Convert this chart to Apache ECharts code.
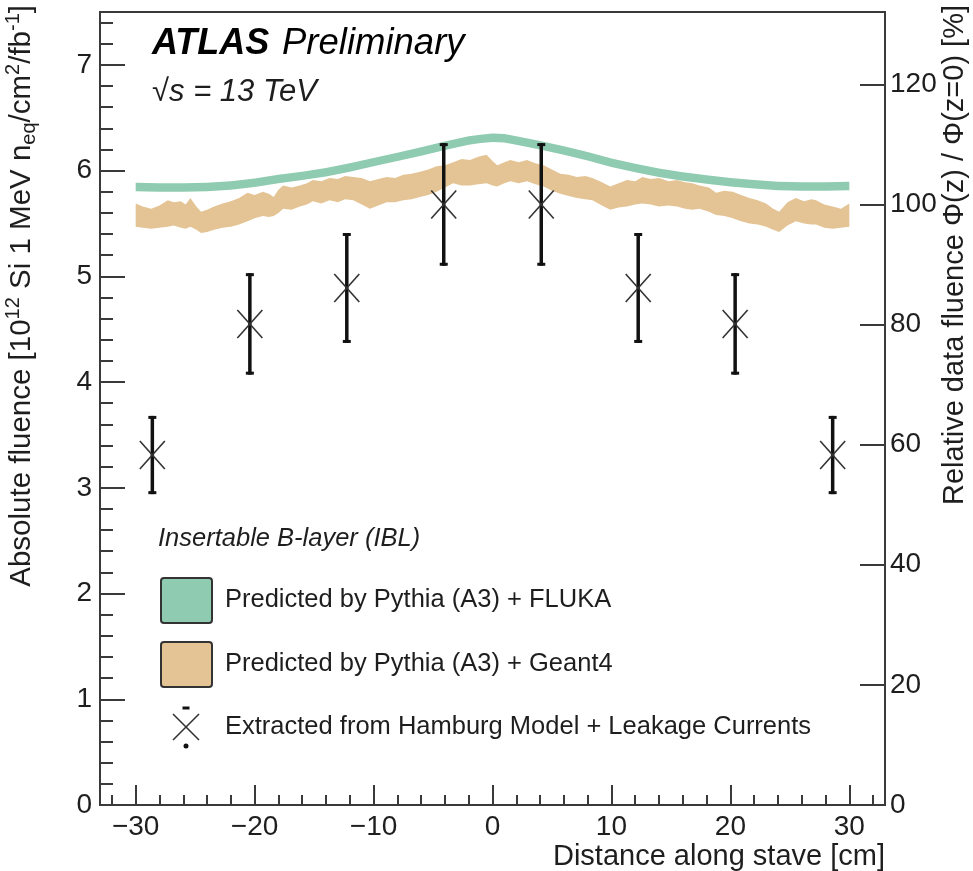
<!DOCTYPE html>
<html>
<head>
<meta charset="utf-8">
<title>IBL fluence along the stave</title>
<script src="https://cdn.jsdelivr.net/npm/echarts@6/dist/echarts.min.js"></script>
<style>
  html, body { margin: 0; padding: 0; background: #fff; }
  #chart { width: 973px; height: 871px; }
</style>
</head>
<body>
<div id="chart"></div>
<script>
// Measured fluence points (extracted from Hamburg model + leakage currents)
const pointZ = [-28.6, -20.4, -12.25, -4.1, 4.1, 12.25, 20.4, 28.6];
const pointFluence = [3.31, 4.55, 4.89, 5.68, 5.68, 4.89, 4.55, 3.31];
const pointError = [0.37, 0.48, 0.52, 0.58, 0.58, 0.52, 0.48, 0.37];

// Pythia (A3) + FLUKA prediction band
const flukaZ = [-30, -28, -26, -24, -22, -20, -18, -16, -14, -12, -10, -8, -6, -4, -2, -1, 0, 1, 2, 4, 6, 8, 10, 12, 14, 16, 18, 20, 22, 24, 26, 28, 30];
const flukaHigh = [5.885, 5.88, 5.88, 5.885, 5.90, 5.925, 5.96, 5.99, 6.025, 6.07, 6.12, 6.17, 6.22, 6.275, 6.325, 6.34, 6.35, 6.345, 6.325, 6.28, 6.23, 6.175, 6.115, 6.065, 6.02, 5.985, 5.955, 5.93, 5.91, 5.895, 5.89, 5.89, 5.895];
const flukaLow = [5.805, 5.80, 5.80, 5.805, 5.82, 5.845, 5.88, 5.91, 5.945, 5.99, 6.04, 6.09, 6.14, 6.195, 6.245, 6.26, 6.27, 6.265, 6.245, 6.20, 6.15, 6.095, 6.035, 5.985, 5.94, 5.905, 5.875, 5.85, 5.83, 5.815, 5.81, 5.81, 5.815];

// Pythia (A3) + Geant4 prediction band
const geantZ = [-30.0, -29.4, -28.7, -28.0, -27.3, -26.8, -26.2, -25.8, -25.4, -24.9, -24.5, -24.0, -23.4, -22.7, -22.0, -21.3, -20.6, -20.0, -19.3, -18.8, -18.4, -18.0, -17.6, -16.9, -16.2, -15.6, -15.1, -14.4, -13.7, -13.0, -12.4, -11.7, -11.0, -10.3, -9.6, -8.9, -8.2, -7.5, -6.8, -6.1, -5.4, -4.7, -4.0, -3.3, -2.6, -1.9, -1.2, -0.5, 0.0, 0.4, 1.0, 1.5, 2.2, 2.9, 3.6, 4.3, 5.0, 5.7, 6.4, 7.1, 7.8, 8.4, 9.2, 9.9, 10.6, 11.3, 12.0, 12.6, 13.3, 14.0, 14.8, 15.5, 16.2, 16.8, 17.4, 18.2, 18.8, 19.5, 20.2, 20.9, 21.6, 22.3, 23.0, 23.6, 24.1, 24.8, 25.5, 26.2, 26.8, 27.2, 27.9, 28.6, 29.3, 30.0];
const geantHigh = [5.69, 5.66, 5.64, 5.67, 5.72, 5.70, 5.71, 5.68, 5.74, 5.66, 5.61, 5.63, 5.66, 5.69, 5.71, 5.74, 5.79, 5.77, 5.80, 5.78, 5.75, 5.82, 5.86, 5.84, 5.86, 5.88, 5.91, 5.90, 5.93, 5.92, 5.95, 5.94, 5.93, 5.90, 5.92, 5.94, 5.93, 5.96, 5.97, 5.99, 6.01, 6.04, 6.05, 6.08, 6.11, 6.10, 6.13, 6.15, 6.09, 6.05, 6.08, 6.10, 6.08, 6.10, 6.07, 6.05, 6.01, 5.97, 5.96, 5.94, 5.95, 5.93, 5.89, 5.85, 5.88, 5.91, 5.90, 5.94, 5.92, 5.93, 5.90, 5.91, 5.89, 5.88, 5.86, 5.84, 5.79, 5.81, 5.80, 5.77, 5.74, 5.72, 5.69, 5.64, 5.61, 5.70, 5.74, 5.71, 5.73, 5.72, 5.68, 5.66, 5.64, 5.69];
const geantLow = [5.47, 5.46, 5.45, 5.46, 5.47, 5.48, 5.46, 5.45, 5.47, 5.44, 5.41, 5.42, 5.44, 5.46, 5.47, 5.49, 5.52, 5.55, 5.57, 5.56, 5.57, 5.60, 5.64, 5.63, 5.66, 5.68, 5.71, 5.69, 5.72, 5.70, 5.73, 5.72, 5.68, 5.64, 5.67, 5.70, 5.70, 5.72, 5.73, 5.75, 5.77, 5.80, 5.84, 5.88, 5.86, 5.86, 5.87, 5.88, 5.86, 5.85, 5.88, 5.90, 5.88, 5.90, 5.87, 5.85, 5.81, 5.78, 5.76, 5.74, 5.73, 5.72, 5.67, 5.63, 5.65, 5.66, 5.68, 5.69, 5.68, 5.66, 5.67, 5.66, 5.64, 5.63, 5.64, 5.61, 5.58, 5.57, 5.55, 5.52, 5.50, 5.49, 5.47, 5.44, 5.42, 5.48, 5.52, 5.50, 5.49, 5.49, 5.46, 5.45, 5.46, 5.47];

// Axis ranges and tick positions
const zMin = -33, zMax = 33;
const fluenceMax = 7.5;
const fluenceAtCentre = 5.68;          // Φ(z=0), sets the 100 % level of the right axis
const zMajorTicks = [-30, -20, -10, 0, 10, 20, 30];
const zMinorTicks = [-32, -28, -26, -24, -22, -18, -16, -14, -12, -8, -6, -4, -2, 2, 4, 6, 8, 12, 14, 16, 18, 22, 24, 26, 28, 32];
const fluenceMajorTicks = [0, 1, 2, 3, 4, 5, 6, 7];
const fluenceMinorTicks = [0.2, 0.4, 0.6, 0.8, 1.2, 1.4, 1.6, 1.8, 2.2, 2.4, 2.6, 2.8, 3.2, 3.4, 3.6, 3.8, 4.2, 4.4, 4.6, 4.8, 5.2, 5.4, 5.6, 5.8, 6.2, 6.4, 6.6, 6.8, 7.2, 7.4];
const relativeTicks = [0, 20, 40, 60, 80, 100, 120];

const FONT = "'Liberation Sans', Arial, Helvetica, sans-serif";
const AXIS_COLOR = '#3a3a3a';
const TEXT_COLOR = '#1e1e1e';
const FLUKA_COLOR = '#8fcbb0';
const GEANT_COLOR = '#e4c495';

const chart = echarts.init(document.getElementById('chart'), null, { renderer: 'canvas' });

function bandRows(z, lo, hi) {
  return z.map((v, i) => [v, lo[i], hi[i]]);
}

// Draws a filled band as one polygon through all rows of the series
function bandRenderer(color) {
  return function (params, api) {
    if (params.dataIndexInside !== 0) return null;
    const n = params.dataInsideLength;
    const upper = [], lower = [];
    for (let i = 0; i < n; i++) {
      const z = api.value(0, i);
      upper.push(api.coord([z, api.value(2, i)]));
      lower.push(api.coord([z, api.value(1, i)]));
    }
    return {
      type: 'polygon',
      shape: { points: upper.concat(lower.reverse()) },
      style: { fill: color, stroke: null },
      silent: true
    };
  };
}

// Error bar with caps plus an X marker at the central value
function pointRenderer(params, api) {
  const z = api.value(0), f = api.value(1), e = api.value(2);
  const c = api.coord([z, f]);
  const top = api.coord([z, f + e]);
  const bot = api.coord([z, f - e]);
  const ink = '#111';
  const mark = '#333';
  return {
    type: 'group',
    children: [
      { type: 'line', shape: { x1: c[0], y1: top[1], x2: c[0], y2: bot[1] }, style: { stroke: ink, lineWidth: 3.5 } },
      { type: 'line', shape: { x1: c[0] - 4, y1: top[1] + 1.5, x2: c[0] + 4, y2: top[1] + 1.5 }, style: { stroke: ink, lineWidth: 3 } },
      { type: 'line', shape: { x1: c[0] - 4, y1: bot[1] - 1.5, x2: c[0] + 4, y2: bot[1] - 1.5 }, style: { stroke: ink, lineWidth: 3 } },
      { type: 'line', shape: { x1: c[0] - 12.5, y1: c[1] - 14, x2: c[0] + 12.5, y2: c[1] + 14 }, style: { stroke: mark, lineWidth: 1.6 } },
      { type: 'line', shape: { x1: c[0] - 12.5, y1: c[1] + 14, x2: c[0] + 12.5, y2: c[1] - 14 }, style: { stroke: mark, lineWidth: 1.6 } }
    ]
  };
}

function txt(text, x, y, opts) {
  const o = opts || {};
  return {
    type: 'text',
    x: x, y: y,
    rotation: o.rotation || 0,
    silent: true,
    z: 10,
    style: {
      text: text,
      x: 0, y: 0,
      font: o.font || ('25.5px ' + FONT),
      fill: o.fill || TEXT_COLOR,
      align: o.align || 'left',
      verticalAlign: 'middle',
      textAlign: o.align || 'left',
      textVerticalAlign: 'middle',
      rich: o.rich
    }
  };
}

const supSub = {
  n: { fontSize: 29.5, fontFamily: FONT, color: TEXT_COLOR, lineHeight: 31 },
  sup: { fontSize: 20, fontFamily: FONT, color: TEXT_COLOR, lineHeight: 20, padding: [0, 0, 17, 0] },
  sub: { fontSize: 20, fontFamily: FONT, color: TEXT_COLOR, lineHeight: 20, padding: [15, 0, 0, 0] }
};

const legendX = 186, legendXY = 727;

const tickStyle = { color: AXIS_COLOR, width: 2 };

const option = {
  animation: false,
  backgroundColor: '#fff',
  grid: {
    left: 100, right: 88, top: 12, bottom: 66,
    show: true, borderColor: AXIS_COLOR, borderWidth: 2, backgroundColor: 'transparent'
  },
  xAxis: [
    {
      type: 'value', min: zMin, max: zMax, position: 'bottom',
      axisLine: { show: false, onZero: false }, splitLine: { show: false },
      axisTick: { show: true, inside: true, length: 20, customValues: zMajorTicks, lineStyle: tickStyle },
      axisLabel: {
        customValues: zMajorTicks, margin: 8, fontSize: 28, fontFamily: FONT, color: TEXT_COLOR,
        formatter: v => String(v).replace('-', '\u2212')
      }
    },
    {
      type: 'value', min: zMin, max: zMax, position: 'bottom', gridIndex: 0,
      axisLine: { show: false, onZero: false }, splitLine: { show: false }, axisLabel: { show: false },
      axisTick: { show: true, inside: true, length: 10, customValues: zMinorTicks, lineStyle: tickStyle }
    }
  ],
  yAxis: [
    {
      type: 'value', min: 0, max: fluenceMax, position: 'left',
      axisLine: { show: false, onZero: false }, splitLine: { show: false },
      axisTick: { show: true, inside: true, length: 25, customValues: fluenceMajorTicks, lineStyle: tickStyle },
      axisLabel: { customValues: fluenceMajorTicks, margin: 8, fontSize: 28, fontFamily: FONT, color: TEXT_COLOR }
    },
    {
      type: 'value', min: 0, max: fluenceMax, position: 'left', gridIndex: 0,
      axisLine: { show: false, onZero: false }, splitLine: { show: false }, axisLabel: { show: false },
      axisTick: { show: true, inside: true, length: 13, customValues: fluenceMinorTicks, lineStyle: tickStyle }
    },
    {
      type: 'value', min: 0, max: fluenceMax / fluenceAtCentre * 100, position: 'right', gridIndex: 0,
      axisLine: { show: false, onZero: false }, splitLine: { show: false },
      axisTick: { show: true, inside: true, length: 25, customValues: relativeTicks, lineStyle: tickStyle },
      axisLabel: { customValues: relativeTicks, margin: 5, fontSize: 28, fontFamily: FONT, color: TEXT_COLOR }
    }
  ],
  series: [
    {
      name: 'Predicted by Pythia (A3) + Geant4',
      type: 'custom', xAxisIndex: 0, yAxisIndex: 0, clip: true, z: 2,
      renderItem: bandRenderer(GEANT_COLOR),
      encode: { x: 0, y: [1, 2] },
      data: bandRows(geantZ, geantLow, geantHigh)
    },
    {
      name: 'Predicted by Pythia (A3) + FLUKA',
      type: 'custom', xAxisIndex: 0, yAxisIndex: 0, clip: true, z: 3,
      renderItem: bandRenderer(FLUKA_COLOR),
      encode: { x: 0, y: [1, 2] },
      data: bandRows(flukaZ, flukaLow, flukaHigh)
    },
    {
      name: 'Extracted from Hamburg Model + Leakage Currents',
      type: 'custom', xAxisIndex: 0, yAxisIndex: 0, clip: false, z: 4,
      renderItem: pointRenderer,
      encode: { x: 0, y: 1 },
      data: pointZ.map((z, i) => [z, pointFluence[i], pointError[i]])
    }
  ],
  graphic: [
    // Experiment label
    txt('ATLAS', 152, 44, { font: 'italic bold 36px ' + FONT, fill: '#000' }),
    txt('Preliminary', 282, 44, { font: 'italic 36.5px ' + FONT, fill: '#000' }),
    txt('\u221As = 13 TeV', 152, 92, { font: 'italic 31px ' + FONT }),
    txt('Insertable B-layer (IBL)', 158, 539, { font: 'italic 25.5px ' + FONT }),

    // Legend
    { type: 'rect', shape: { x: 161, y: 578, width: 51, height: 45, r: 3 }, style: { fill: FLUKA_COLOR, stroke: '#333', lineWidth: 2 }, z: 10, silent: true },
    txt('Predicted by Pythia (A3) + FLUKA', 225, 600),
    { type: 'rect', shape: { x: 161, y: 642, width: 51, height: 45, r: 3 }, style: { fill: GEANT_COLOR, stroke: '#333', lineWidth: 2 }, z: 10, silent: true },
    txt('Predicted by Pythia (A3) + Geant4', 225, 664),
    { type: 'line', shape: { x1: legendX - 13, y1: legendXY - 13, x2: legendX + 13, y2: legendXY + 13 }, style: { stroke: '#333', lineWidth: 1.6 }, z: 10, silent: true },
    { type: 'line', shape: { x1: legendX - 13, y1: legendXY + 13, x2: legendX + 13, y2: legendXY - 13 }, style: { stroke: '#333', lineWidth: 1.6 }, z: 10, silent: true },
    { type: 'line', shape: { x1: legendX - 3.5, y1: legendXY - 19, x2: legendX + 3.5, y2: legendXY - 19 }, style: { stroke: '#111', lineWidth: 3 }, z: 10, silent: true },
    { type: 'circle', shape: { cx: legendX, cy: legendXY + 19, r: 2.5 }, style: { fill: '#111' }, z: 10, silent: true },
    txt('Extracted from Hamburg Model + Leakage Currents', 225, 727),

    // Axis titles
    txt('Distance along stave [cm]', 885, 857, { font: '29px ' + FONT, align: 'right' }),
    txt('{n|Absolute fluence [10}{sup|12}{n| Si 1 MeV n}{sub|eq}{n|/cm}{sup|2}{n|/fb}{sup|-1}{n|]}', 22, 5,
        { font: '29.5px ' + FONT, align: 'right', rotation: Math.PI / 2, rich: supSub }),
    txt('Relative data fluence \u03A6(z) / \u03A6(z=0) [%]', 955, 5,
        { font: '29px ' + FONT, align: 'right', rotation: Math.PI / 2 })
  ]
};

chart.setOption(option);
</script>
</body>
</html>
